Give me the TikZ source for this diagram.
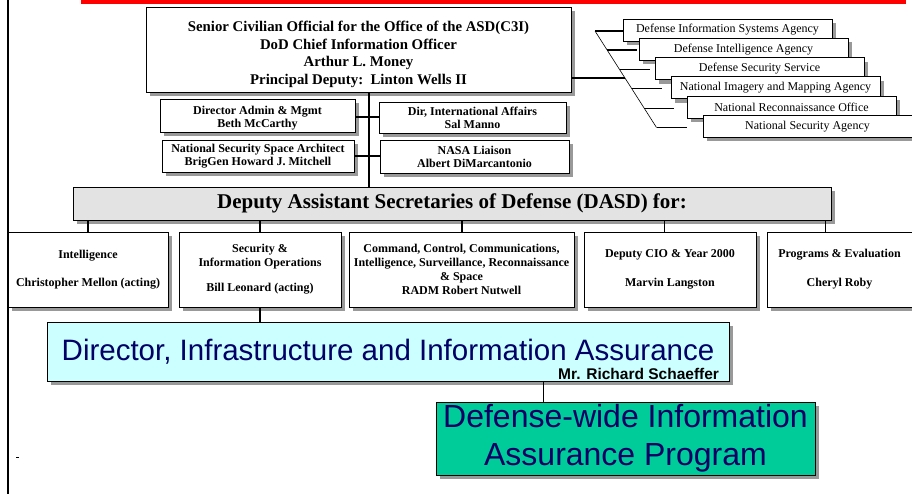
\documentclass[tikz,border=0pt]{standalone}
\usepackage{fontspec}
\setmainfont{Liberation Serif}
\newfontfamily\arialfont{Liberation Sans}
\usetikzlibrary{positioning, calc, shadows}
\definecolor{cred}{HTML}{FF0000}
\definecolor{cnavy}{HTML}{000066}
\definecolor{ccyan}{HTML}{CCFFFF}
\definecolor{cteal}{HTML}{00CC99}
\definecolor{clight}{HTML}{E3E3E3}
\definecolor{cshadow}{HTML}{999999}
\tikzset{
  every picture/.style={line width=0.8pt},
  box/.style={draw=black, fill=#1, align=center, inner sep=0pt, drop shadow={shadow xshift=4pt, shadow yshift=-4pt, fill=cshadow, opacity=1}},
  box/.default=white,
  link/.style={draw=black, line width=2pt},
  thinlink/.style={draw=black, line width=0.9pt},
  chief/.style={font=\bfseries\fontsize{14.8}{17.8}\selectfont},
  staff/.style={font=\bfseries\fontsize{12}{13}\selectfont},
  agency/.style={box, minimum width=209pt, minimum height=22pt, font=\fontsize{12}{13}\selectfont},
  dasd/.style={box, minimum height=75pt, font=\bfseries\fontsize{12}{14}\selectfont},
  heading/.style={font=\bfseries\fontsize{21}{24}\selectfont},
  banner/.style={font=\arialfont\fontsize{29.5}{37}\selectfont, text=cnavy},
}

\begin{document}
\begin{tikzpicture}[x=1pt, y=-1pt]
  \useasboundingbox (0,0) rectangle (912,494);
  \fill[cred] (81,0) rectangle (906,4);
  \draw[line width=2.5pt] (8,0) -- (8,494);
  \draw[line width=0.8pt] (16,457) -- (19,457);
  % the office
  \node[box, chief, minimum width=425pt, minimum height=85pt] (top) at (358.5,49.5) {\raisebox{-5pt}[\height][\depth]{\begin{tabular}{@{}c@{}}Senior Civilian Official for the Office of the ASD(C3I)\\ DoD Chief Information Officer\\ Arthur L. Money\\ Principal Deputy:\ \ Linton Wells II\end{tabular}}};
  \node[box, staff, minimum width=195pt, minimum height=33pt] (adm) at (257.5,115.5) {\raisebox{-3pt}[\height][\depth]{\begin{tabular}{@{}c@{}}Director Admin \& Mgmt\\ Beth McCarthy\end{tabular}}};
  \node[box, staff, minimum width=192pt, minimum height=32pt] (nss) at (258,156) {National Security Space Architect\\ BrigGen Howard J. Mitchell};
  \node[box, staff, minimum width=187pt, minimum height=31pt] (intl) at (472.5,117.5) {\raisebox{-2pt}[\height][\depth]{\begin{tabular}{@{}c@{}}Dir, International Affairs\\ Sal Manno\end{tabular}}};
  \node[box, staff, minimum width=189pt, minimum height=33pt] (nasa) at (474.5,156.5) {NASA Liaison\\ Albert DiMarcantonio};
  \node[box=clight, heading, minimum width=758pt, minimum height=33pt] (dasd) at (452,203.5) {Deputy Assistant Secretaries of Defense (DASD) for:};
  \draw[link] ([xshift=10.5pt]top.south) -- ([xshift=10.5pt]top.south |- dasd.north);
  \draw[link] (adm.east |- intl.west) -- (intl.west);
  \draw[link] (nss.east) -- (nss.east -| nasa.west);
  % agencies
  \coordinate (bra) at (595,31);
  \coordinate (brb) at (656.5,127.5);
  \coordinate (hub) at ($(bra)!0.487!(brb)$);
  \draw[line width=0.6pt] (bra) -- (brb);
  \draw[link] (top.east |- hub) -- (hub);
  \foreach \name/\w [count=\i] in {Defense Information Systems Agency/1.6, Defense Intelligence Agency/1.6, Defense Security Service/1.6, National Imagery and Mapping Agency/0.9, National Reconnaissance Office/0.9, National Security Agency/0.9} {
    \coordinate (d\i) at ($(bra)!{(\i-1)/5}!(brb)$);
    \draw[line width=\w pt] (d\i) -- ++(30,0);
    \node[agency] (ag\i) at ({727.5+16*(\i-1)},{30+19.3*(\i-1)}) {\name};
  }
  % DASD
  \node[dasd, minimum width=160pt] (intel) at (88,269.5) {Intelligence\\[14pt] Christopher Mellon (acting)};
  \node[dasd, minimum width=162pt] (sec) at (260,269.5) {Security \&\\ Information Operations\\[11pt] Bill Leonard (acting)};
  \node[dasd, minimum width=225pt] (cci) at (461.5,269.5) {Command, Control, Communications,\\ Intelligence, Surveillance, Reconnaissance\\ \& Space\\ RADM Robert Nutwell};
  \node[dasd, minimum width=172pt] (cio) at (670,269.5) {Deputy CIO \& Year 2000\\[15pt] Marvin Langston};
  \node[dasd, minimum width=145pt] (pe) at (839.5,269.5) {Programs \& Evaluation\\[15pt] Cheryl Roby};
  \draw[link] (intel.north) -- (intel.north |- dasd.south);
  \draw[link] (sec.north) -- (sec.north |- dasd.south);
  \draw[link] (cci.north) -- (cci.north |- dasd.south);
  \draw[thinlink] ([xshift=-6pt]cio.north) -- ([xshift=-6pt]cio.north |- dasd.south);
  \draw[thinlink] ([xshift=-14.5pt]pe.north) -- ([xshift=-14.5pt]pe.north |- dasd.south);
  % infrastructure and assurance
  \node[box=ccyan, banner, minimum width=682pt, minimum height=59pt] (dir) at (388,351.5) {Director, Infrastructure and Information Assurance};
  \node[anchor=base east, inner sep=0pt, font=\arialfont\bfseries\fontsize{15.5}{17}\selectfont] (schaeffer) at ([xshift=-10pt, yshift=2pt]dir.south east) {Mr. Richard Schaeffer};
  \node[box=cteal, banner, font=\arialfont\fontsize{32}{38}\selectfont, minimum width=379pt, minimum height=73pt] (diap) at (625.5,438.5) {Defense-wide Information\\ Assurance Program};
  \draw[link] (sec.south) -- (sec.south |- dir.north);
  \draw[thinlink] ([xshift=155pt]dir.south) -- ([xshift=155pt]dir.south |- diap.north);
\end{tikzpicture}
\end{document}
